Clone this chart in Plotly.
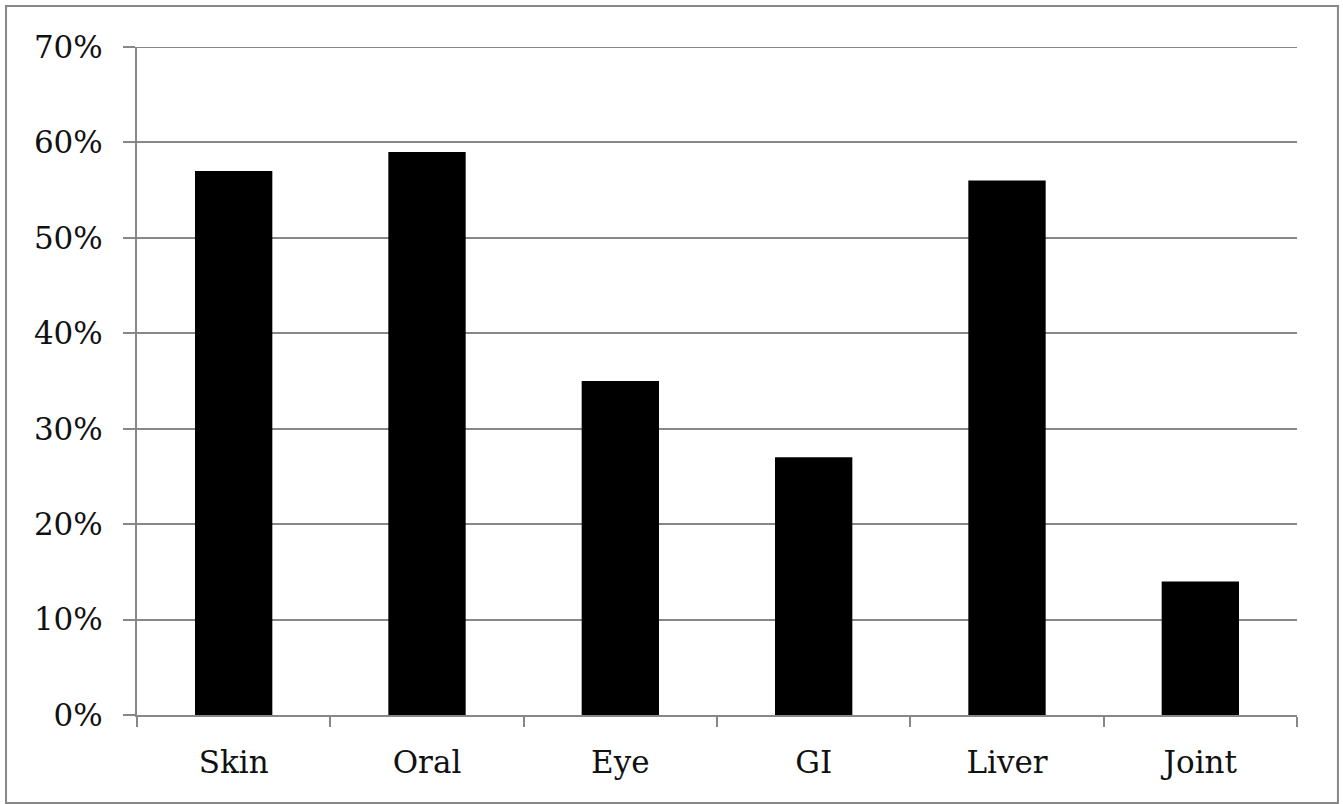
import plotly.graph_objects as go

# Share of patients with involvement, by organ site
categories = ["Skin", "Oral", "Eye", "GI", "Liver", "Joint"]
values = [0.57, 0.59, 0.35, 0.27, 0.56, 0.14]
y_ticks = [0, 0.1, 0.2, 0.3, 0.4, 0.5, 0.6, 0.7]
y_tick_labels = ["0%", "10%", "20%", "30%", "40%", "50%", "60%", "70%"]

GRID = "#878787"
FONT = dict(family="DejaVu Serif", size=31, color="#111111")

fig = go.Figure(
    go.Bar(
        x=categories,
        y=values,
        marker=dict(color="#000000", line=dict(width=0)),
        hoverinfo="x+y",
    )
)

fig.update_layout(
    width=1343,
    height=804,
    margin=dict(l=137, r=46, t=47, b=89),
    paper_bgcolor="white",
    plot_bgcolor="white",
    bargap=0.6,
    showlegend=False,
    font=FONT,
)

fig.update_xaxes(
    showline=True,
    linecolor=GRID,
    linewidth=2,
    ticks="outside",
    tickson="boundaries",
    ticklen=10,
    tickwidth=2,
    tickcolor=GRID,
    ticklabelstandoff=19,
    showgrid=False,
    tickfont=FONT,
)

fig.update_yaxes(
    range=[y_ticks[0], y_ticks[-1]],
    tickvals=y_ticks,
    ticktext=y_tick_labels,
    showline=True,
    linecolor=GRID,
    linewidth=2,
    ticks="outside",
    ticklen=12,
    tickwidth=2,
    tickcolor=GRID,
    showgrid=True,
    gridcolor=GRID,
    gridwidth=2,
    zeroline=False,
    ticklabelstandoff=14,
    tickfont=FONT,
)

# Top gridline sits on the upper edge of the plot area
fig.add_shape(
    type="line",
    xref="paper",
    yref="y",
    x0=0,
    x1=1,
    y0=y_ticks[-1],
    y1=y_ticks[-1],
    line=dict(color=GRID, width=2),
    layer="below",
)

# Frame around the whole chart
fig.add_shape(
    type="rect",
    xref="paper",
    yref="paper",
    x0=-0.1129,
    x1=1.0353,
    y0=-0.1317,
    y1=1.0614,
    line=dict(color=GRID, width=2),
    fillcolor="rgba(0,0,0,0)",
    layer="below",
)

fig.write_html("out.html")
